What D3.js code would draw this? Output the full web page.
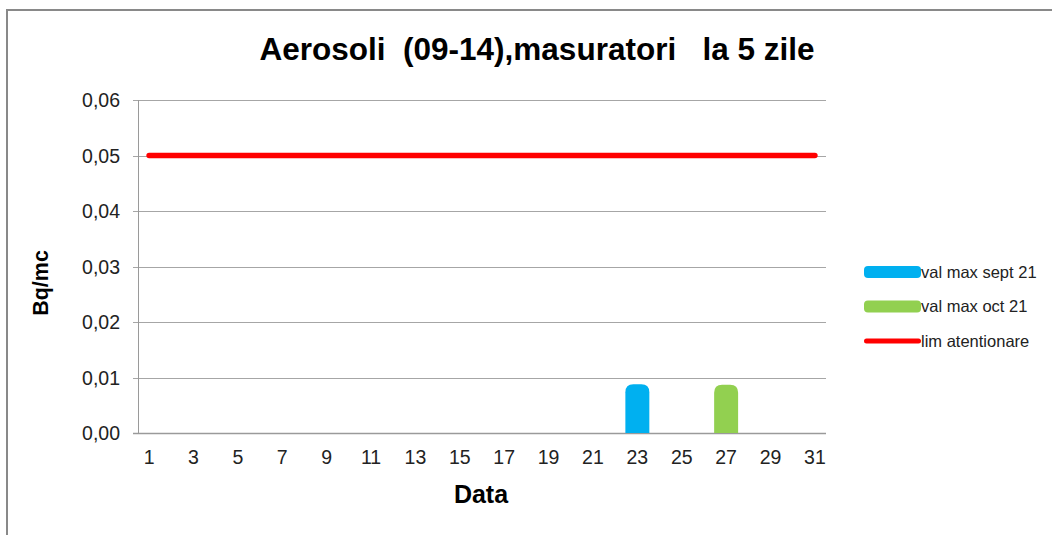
<!DOCTYPE html>
<html>
<head>
  <meta charset="utf-8">
  <title>Aerosoli</title>
  <style>
    body { margin: 0; background: #fff; }
    text { font-family: "Liberation Sans", Arial, sans-serif; }
  </style>
</head>
<body>
  <svg width="1052" height="535"></svg>
  <script src="https://cdnjs.cloudflare.com/ajax/libs/d3/7.8.5/d3.min.js"></script>
  <script>
    // zilele lunii
    const days = d3.range(1, 32);
    const dayLabels = days.filter(d => d % 2 === 1);
    const yTicks = [0, 0.01, 0.02, 0.03, 0.04, 0.05, 0.06];

    // valori max (Bq/mc), doar zilele cu masuratori
    const septDays = [23];
    const septValues = [0.0088];
    const octDays = [27];
    const octValues = [0.0087];
    const limValue = 0.05;

    const legendNames = ["val max sept 21", "val max oct 21", "lim atentionare"];
    const colors = ["#00b0f0", "#92d050", "#ff0000"];

    const svg = d3.select("svg");
    const margin = {top: 100, left: 138, right: 226, bottom: 102};
    const W = +svg.attr("width"), H = +svg.attr("height");

    // rama
    svg.append("path")
       .attr("d", `M7,${H} V10 H${W}`)
       .attr("fill", "none")
       .attr("stroke", "#898989")
       .attr("stroke-width", 2);

    const x = d3.scaleBand()
                .domain(days)
                .range([margin.left, W - margin.right]);
    const y = d3.scaleLinear()
                .domain([0, 0.06])
                .range([H - margin.bottom, margin.top]);

    // grila
    svg.append("g").selectAll("line")
       .data(yTicks)
       .enter().append("line")
       .attr("x1", margin.left - 5)
       .attr("x2", W - margin.right)
       .attr("y1", d => Math.round(y(d)) + 0.5)
       .attr("y2", d => Math.round(y(d)) + 0.5)
       .attr("stroke", d => d === 0 ? "#9a9a9a" : "#a6a6a6")
       .attr("stroke-width", d => d === 0 ? 1.5 : 1);

    svg.append("line")
       .attr("x1", margin.left + 0.5).attr("x2", margin.left + 0.5)
       .attr("y1", y(0.06)).attr("y2", y(0))
       .attr("stroke", "#9a9a9a");

    svg.append("g").selectAll("text")
       .data(yTicks)
       .enter().append("text")
       .text(d => d3.format(".2f")(d).replace(".", ","))
       .attr("x", margin.left - 18)
       .attr("y", d => y(d))
       .attr("dy", "0.36em")
       .attr("text-anchor", "end")
       .attr("font-size", 19.5)
       .attr("fill", "#222");

    svg.append("g").selectAll("text")
       .data(dayLabels)
       .enter().append("text")
       .text(d => d)
       .attr("x", d => x(d) + x.bandwidth() / 2)
       .attr("y", y(0) + 31)
       .attr("text-anchor", "middle")
       .attr("font-size", 19.5)
       .attr("fill", "#222");

    // bare cu colturi rotunjite sus
    function barPath(cx, v) {
      const w = x.bandwidth() * 1.08, r = 8;
      const x0 = cx - w / 2, x1 = cx + w / 2, y0 = y(0), yt = y(v);
      return `M${x0},${y0} V${yt + r} Q${x0},${yt} ${x0 + r},${yt} H${x1 - r} Q${x1},${yt} ${x1},${yt + r} V${y0} Z`;
    }

    svg.append("g").selectAll("path")
       .data(septDays.map((d, i) => ({d: d, v: septValues[i]})))
       .enter().append("path")
       .attr("d", p => barPath(x(p.d) + x.bandwidth() / 2, p.v))
       .attr("fill", colors[0]);

    svg.append("g").selectAll("path")
       .data(octDays.map((d, i) => ({d: d, v: octValues[i]})))
       .enter().append("path")
       .attr("d", p => barPath(x(p.d) + x.bandwidth() / 2, p.v))
       .attr("fill", colors[1]);

    // limita de atentionare
    const line = d3.line()
                   .x(d => x(d) + x.bandwidth() / 2)
                   .y(() => y(limValue));
    svg.append("path")
       .attr("d", line(days))
       .attr("fill", "none")
       .attr("stroke", colors[2])
       .attr("stroke-width", 5.5)
       .attr("stroke-linecap", "round");

    // titluri
    svg.append("text")
       .text("Aerosoli  (09-14),masuratori   la 5 zile")
       .attr("x", 537).attr("y", 60)
       .attr("text-anchor", "middle")
       .attr("font-size", 31.5)
       .attr("font-weight", "bold")
       .style("white-space", "pre");

    svg.append("text")
       .text("Data")
       .attr("x", 481).attr("y", 503)
       .attr("text-anchor", "middle")
       .attr("font-size", 25)
       .attr("font-weight", "bold");

    svg.append("text")
       .text("Bq/mc")
       .attr("transform", "translate(48,283) rotate(-90)")
       .attr("text-anchor", "middle")
       .attr("font-size", 21.5)
       .attr("font-weight", "bold");

    // legenda
    const lg = svg.append("g").selectAll("g")
       .data(legendNames)
       .enter().append("g")
       .attr("transform", (d, i) => `translate(864,${272 + 34.5 * i})`);

    lg.append("rect")
      .attr("x", 0).attr("width", 57)
      .attr("y", (d, i) => i < 2 ? -6 : -2.5)
      .attr("height", (d, i) => i < 2 ? 12 : 5)
      .attr("rx", (d, i) => i < 2 ? 4 : 2.5)
      .attr("fill", (d, i) => colors[i]);

    lg.append("text")
      .text(d => d)
      .attr("x", 57)
      .attr("dy", "0.36em")
      .attr("font-size", 16.5)
      .attr("fill", "#222");
  </script>
</body>
</html>
